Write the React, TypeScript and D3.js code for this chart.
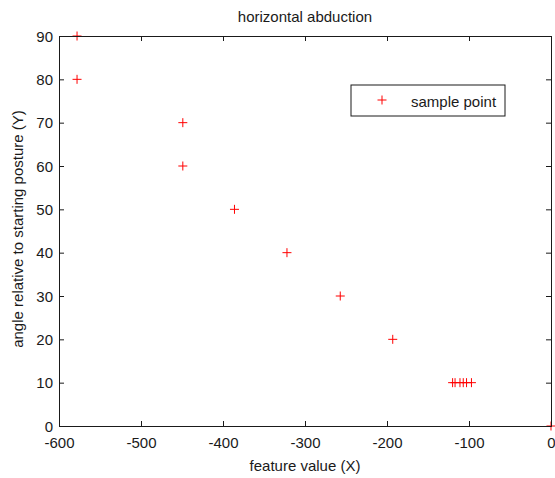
import React, { useEffect, useRef } from 'react';
import * as d3 from 'd3';

// sample points
const featureValues = [-578, -578, -449, -449, -386, -322, -257, -193, -120, -117, -111, -107, -103, -97, 0];
const angleValues = [90, 80, 70, 60, 50, 40, 30, 20, 10, 10, 10, 10, 10, 10, 0];
const xTicks = [-600, -500, -400, -300, -200, -100, 0];
const yTicks = [0, 10, 20, 30, 40, 50, 60, 70, 80, 90];

const titleText = 'horizontal abduction';
const xLabelText = 'feature value (X)';
const yLabelText = 'angle relative to starting posture (Y)';
const legendText = 'sample point';

const App = () => {
  const svgRef = useRef<SVGSVGElement>(null);

  useEffect(() => {
    const W = 555;
    const H = 478;
    const margin = { top: 36, right: 4, bottom: 52, left: 59 };
    const width = W - margin.left - margin.right;
    const height = H - margin.top - margin.bottom;
    const font = 'Arial, "Liberation Sans", sans-serif';
    const fs = '15px';
    const ink = '#1a1a1a';

    const root = d3.select(svgRef.current);
    root.selectAll('*').remove();

    root.append('rect').attr('width', W).attr('height', H).attr('fill', '#fff');

    const g = root.append('g').attr('transform', `translate(${margin.left},${margin.top})`);

    const x = d3.scaleLinear().domain([-600, 0]).range([0, width]);
    const y = d3.scaleLinear().domain([0, 90]).range([height, 0]);

    const data = featureValues.map((v, i) => ({ x: v, y: angleValues[i] }));

    // plus markers
    const plus = (sel: any, s: number) => {
      sel.append('line').attr('x1', -s).attr('x2', s).attr('y1', 0).attr('y2', 0);
      sel.append('line').attr('x1', 0).attr('x2', 0).attr('y1', -s).attr('y2', s);
    };

    const pts = g.append('g')
      .attr('stroke', '#ff0000')
      .attr('stroke-width', 1)
      .selectAll('g')
      .data(data)
      .join('g')
      .attr('transform', d => `translate(${x(d.x)},${y(d.y)})`);
    pts.each(function () { plus(d3.select(this), 4.5); });

    // plain hyphen minus like the original figure
    const fmt = (d: any) => String(d);

    // axes (ticks inward, on all four sides)
    const tick = 5;
    const bottom = g.append('g').attr('transform', `translate(0,${height})`)
      .call(d3.axisBottom(x).tickValues(xTicks).tickSize(-tick).tickFormat(fmt));
    const left = g.append('g')
      .call(d3.axisLeft(y).tickValues(yTicks).tickSize(-tick).tickPadding(6).tickFormat(fmt));
    const top = g.append('g')
      .call(d3.axisTop(x).tickValues(xTicks).tickSize(-tick).tickFormat(() => ''));
    const right = g.append('g').attr('transform', `translate(${width},0)`)
      .call(d3.axisRight(y).tickValues(yTicks).tickSize(-tick).tickFormat(() => ''));

    [bottom, left, top, right].forEach(a => {
      a.select('.domain').attr('stroke', ink).attr('stroke-width', 1);
      a.selectAll('.tick line').attr('stroke', ink);
      a.selectAll('text').attr('fill', ink).style('font-family', font).style('font-size', fs);
    });
    bottom.selectAll('.tick text').attr('y', 22).attr('dy', 0);
    left.selectAll('.tick text').attr('x', -6).attr('dy', '0.35em');

    // title and labels
    root.append('text')
      .attr('x', margin.left + width / 2)
      .attr('y', 22)
      .attr('text-anchor', 'middle')
      .style('font-family', font).style('font-size', fs)
      .attr('fill', ink)
      .text(titleText);

    root.append('text')
      .attr('x', margin.left + width / 2)
      .attr('y', 471)
      .attr('text-anchor', 'middle')
      .style('font-family', font).style('font-size', fs)
      .attr('fill', ink)
      .text(xLabelText);

    root.append('text')
      .attr('transform', `translate(23,${margin.top + height / 2 - 2}) rotate(-90)`)
      .attr('text-anchor', 'middle')
      .style('font-family', font).style('font-size', fs)
      .attr('fill', ink)
      .text(yLabelText);

    // legend
    const lg = root.append('g').attr('transform', 'translate(351,85)');
    lg.append('rect')
      .attr('width', 154).attr('height', 31)
      .attr('fill', '#fff').attr('stroke', ink).attr('stroke-width', 1);
    const lm = lg.append('g').attr('transform', 'translate(31,15)').attr('stroke', '#ff0000');
    plus(lm, 4.5);
    lg.append('text')
      .attr('x', 60).attr('y', 22)
      .style('font-family', font).style('font-size', fs)
      .attr('fill', ink)
      .text(legendText);
  }, []);

  return (
    <svg ref={svgRef} width={555} height={478}
      style={{ position: 'absolute', left: 0, top: 0, display: 'block' }} />
  );
};

export default App;
